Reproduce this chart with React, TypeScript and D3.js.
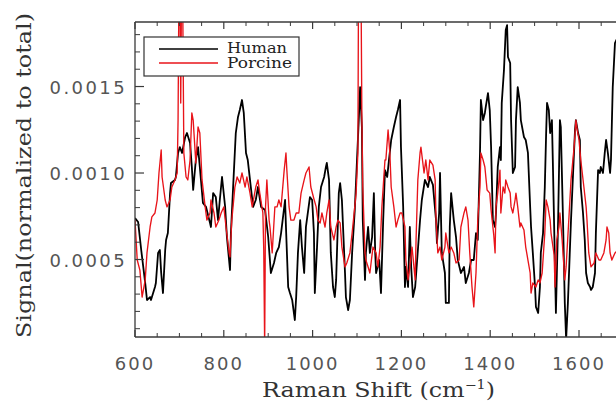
import React from 'react';
import * as d3 from 'd3';

// Raman shift (cm^-1) and normalized signal, Human sample
const humanShift = [
  600,607,614,623,627,634,636,645,647,652,
  656,659,663,668,670,674,679,681,690,692,
  697,701,706,713,717,724,728,731,737,742,
  746,753,760,769,771,776,782,787,791,796,
  803,807,814,816,821,827,832,836,841,845,
  850,854,859,866,872,877,884,893,900,906,
  913,918,924,929,938,940,945,949,954,960,
  963,967,972,976,981,985,994,999,1003,1005,
  1010,1014,1019,1026,1030,1032,1037,1041,1046,1050,
  1053,1059,1062,1066,1073,1075,1080,1084,1089,1095,
  1100,1104,1107,1111,1113,1118,1120,1125,1129,1134,
  1138,1141,1143,1150,1154,1159,1163,1168,1172,1177,
  1183,1188,1192,1197,1199,1204,1208,1210,1215,1219,
  1222,1226,1231,1235,1242,1246,1253,1260,1264,1271,
  1278,1280,1285,1287,1291,1298,1300,1307,1309,1312,
  1318,1323,1327,1334,1341,1345,1352,1357,1363,1368,
  1372,1377,1379,1384,1388,1390,1395,1399,1402,1406,
  1411,1413,1417,1422,1424,1426,1431,1435,1438,1440,
  1445,1447,1451,1456,1458,1462,1467,1469,1476,1480,
  1485,1490,1492,1496,1501,1503,1508,1512,1514,1519,
  1523,1526,1528,1532,1535,1539,1541,1548,1553,1557,
  1559,1564,1568,1571,1575,1582,1591,1593,1598,1602,
  1604,1609,1613,1616,1620,1625,1627,1631,1636,1638,
  1643,1647,1649,1654,1658,1661,1665,1670,1672,1676,
  1681,1690,
];
const humanSignal = [
  0.000740,0.000717,0.000555,0.000364,0.000266,0.000283,0.000266,0.000341,0.000364,0.000538,
  0.000555,0.000422,0.000306,0.000555,0.000613,0.000653,0.000884,0.000942,0.000960,0.000977,
  0.001116,0.001150,0.001116,0.001208,0.001231,0.001173,0.001035,0.000902,0.001075,0.001150,
  0.001035,0.000827,0.000804,0.000711,0.000688,0.000884,0.000861,0.000728,0.000844,0.000977,
  0.000804,0.000630,0.000439,0.000653,0.000919,0.001231,0.001324,0.001364,0.001422,0.001347,
  0.001116,0.001075,0.000960,0.000804,0.000844,0.000919,0.000804,0.000786,0.000630,0.000422,
  0.000480,0.000538,0.000572,0.000653,0.000844,0.000688,0.000341,0.000306,0.000266,0.000150,
  0.000283,0.000538,0.000728,0.000572,0.000422,0.000688,0.000861,0.000844,0.000653,0.000306,
  0.000572,0.000804,0.000919,0.000977,0.001035,0.001058,0.000960,0.000538,0.000341,0.000283,
  0.000382,0.000884,0.000942,0.000844,0.000422,0.000283,0.000208,0.000266,0.000538,0.000786,
  0.001075,0.001306,0.001497,0.001266,0.000728,0.000382,0.000538,0.000688,0.000538,0.000630,
  0.000884,0.000538,0.000422,0.000497,0.000306,0.000728,0.001017,0.000977,0.001075,0.001191,
  0.001266,0.001324,0.001364,0.001422,0.001150,0.000804,0.000341,0.000457,0.000341,0.000688,
  0.000457,0.000283,0.000341,0.000480,0.000728,0.000844,0.000960,0.000919,0.000977,0.000931,
  0.000728,0.000595,0.000769,0.001000,0.000538,0.000422,0.000249,0.000249,0.000688,0.000884,
  0.000728,0.000630,0.000497,0.000422,0.000457,0.000364,0.000422,0.000497,0.000497,0.000653,
  0.000613,0.001116,0.001422,0.001306,0.001347,0.001382,0.001462,0.001364,0.001150,0.000728,
  0.000688,0.000769,0.001035,0.001150,0.001075,0.001405,0.001595,0.001827,0.001855,0.001671,
  0.001636,0.001306,0.001000,0.001035,0.001306,0.001497,0.001405,0.001306,0.001208,0.001191,
  0.001116,0.000804,0.000688,0.000538,0.000341,0.000226,0.000191,0.000341,0.000538,0.000653,
  0.000919,0.001231,0.001405,0.001364,0.001231,0.001306,0.001075,0.000191,0.000728,0.001306,
  0.001266,0.000728,0.000249,0.000040,0.000249,0.000728,0.001249,0.001306,0.001231,0.001191,
  0.000919,0.000769,0.000613,0.000422,0.000364,0.000341,0.000324,0.000341,0.000422,0.000653,
  0.001017,0.001000,0.001035,0.001000,0.001116,0.001191,0.001116,0.001000,0.001075,0.001497,
  0.001751,0.001800,
];

// Porcine sample
const porcineShift = [
  600,605,611,616,623,627,634,638,645,650,
  654,659,661,668,672,679,683,690,695,697,
  700,703,706,710,715,719,724,728,731,737,
  742,746,751,758,762,769,771,778,782,789,
  794,800,805,812,814,818,825,830,836,841,
  848,852,859,864,872,877,881,888,890,892,
  894,897,902,904,909,915,920,924,929,936,
  940,942,947,951,958,963,969,974,981,985,
  992,996,1003,1008,1012,1017,1021,1028,1032,1037,
  1041,1048,1053,1057,1062,1066,1073,1077,1084,1089,
  1095,1098,1102,1104,1108,1111,1113,1118,1120,1125,
  1129,1136,1143,1147,1152,1156,1163,1165,1170,1174,
  1177,1183,1188,1192,1197,1201,1208,1210,1215,1219,
  1224,1231,1233,1237,1242,1244,1251,1255,1260,1264,
  1271,1276,1278,1282,1287,1291,1298,1300,1307,1312,
  1318,1323,1330,1334,1341,1345,1350,1354,1359,1363,
  1368,1372,1377,1379,1384,1388,1393,1399,1402,1408,
  1411,1413,1417,1422,1424,1429,1433,1435,1440,1445,
  1447,1451,1456,1458,1462,1467,1469,1476,1480,1485,
  1490,1492,1496,1503,1508,1512,1517,1523,1526,1530,
  1535,1537,1544,1546,1550,1555,1557,1562,1568,1571,
  1577,1582,1589,1593,1595,1600,1604,1611,1616,1618,
  1622,1627,1634,1638,1645,1649,1656,1661,1663,1667,
  1670,1674,1681,1690,
];
const porcineSignal = [
  0.000728,0.000497,0.000439,0.000283,0.000382,0.000538,0.000688,0.000746,0.000769,0.000844,
  0.001000,0.001133,0.000977,0.000844,0.000804,0.000844,0.000919,0.000960,0.001000,0.001306,
  0.002500,0.001405,0.002500,0.001116,0.000977,0.000960,0.001075,0.001347,0.001306,0.001058,
  0.001266,0.001231,0.000960,0.000804,0.000728,0.000769,0.000844,0.000769,0.000688,0.000728,
  0.000769,0.000804,0.000688,0.000538,0.000515,0.000728,0.000919,0.000977,0.000942,0.001000,
  0.000919,0.000977,0.000884,0.000804,0.000919,0.000960,0.000884,0.000769,0.000555,0.000000,
  0.000804,0.000960,0.000728,0.000688,0.000538,0.000804,0.000804,0.000844,0.000804,0.001017,
  0.001116,0.001017,0.000804,0.000728,0.000728,0.000769,0.000769,0.000884,0.000960,0.001000,
  0.001035,0.000919,0.000850,0.000804,0.000728,0.000711,0.000769,0.000688,0.000769,0.000844,
  0.000688,0.000613,0.000688,0.000728,0.000711,0.000572,0.000457,0.000480,0.000538,0.000653,
  0.000804,0.000884,0.001116,0.002500,0.002500,0.001306,0.000919,0.000538,0.000497,0.000457,
  0.000422,0.000572,0.000538,0.000457,0.000572,0.000804,0.001075,0.001075,0.001249,0.001116,
  0.000919,0.000804,0.000688,0.000728,0.000769,0.000769,0.000688,0.000497,0.000382,0.000457,
  0.000572,0.000382,0.000613,0.000960,0.001116,0.001150,0.001000,0.001075,0.000960,0.001075,
  0.001046,0.000960,0.000728,0.000538,0.000572,0.000497,0.000572,0.000653,0.000538,0.000572,
  0.000538,0.000480,0.000497,0.000688,0.000769,0.000804,0.000728,0.000538,0.000341,0.000226,
  0.000422,0.000728,0.000919,0.001116,0.001075,0.001035,0.000902,0.000884,0.000786,0.000642,
  0.000538,0.000804,0.000884,0.001017,0.000769,0.000919,0.000884,0.000960,0.000919,0.000884,
  0.000804,0.000769,0.000844,0.000884,0.000804,0.000688,0.000711,0.000671,0.000572,0.000497,
  0.000422,0.000306,0.000364,0.000341,0.000382,0.000364,0.000422,0.000653,0.000844,0.000804,
  0.000728,0.000653,0.000526,0.000341,0.000613,0.000688,0.000769,0.000613,0.000382,0.000457,
  0.000728,0.000960,0.001150,0.001306,0.001266,0.001191,0.001075,0.000919,0.000804,0.000728,
  0.000538,0.000457,0.000480,0.000538,0.000497,0.000497,0.000538,0.000613,0.000688,0.000653,
  0.000538,0.000497,0.000538,0.000560,
];

const xMajorTicks = [600, 800, 1000, 1200, 1400, 1600];
const yMajorTicks = [0.0005, 0.0010, 0.0015];
const yTickLabels = ['0.0005', '0.0010', '0.0015'];
const seriesNames = ['Human', 'Porcine'];
const seriesColors = ['#000000', '#e8141a'];

const W = 616;
const H = 402;
const L = 135;
const T = 22;
const B = 337;

export default function App() {
  const x = d3.scaleLinear().domain([600, 1700]).range([L, L + 1100 * 0.444]);
  const y = d3.scaleLinear().domain([0.000052, 0.001873]).range([B, T]);
  const line = d3
    .line<[number, number]>()
    .x((d) => x(d[0]))
    .y((d) => y(d[1]));
  const human = humanShift.map((s, i) => [s, humanSignal[i]] as [number, number]);
  const porcine = porcineShift.map((s, i) => [s, porcineSignal[i]] as [number, number]);
  const xMinor = d3.range(600, 1751, 50).filter((v) => v % 200 !== 0);
  const xMajorAll = [...xMajorTicks, 1800];
  const yMinor = d3
    .range(1, 19)
    .map((k) => k * 0.0001)
    .filter((v) => Math.abs(v / 0.0005 - Math.round(v / 0.0005)) > 1e-6);
  const axisColor = '#3a3a3a';
  const right = W + 20;

  return (
    <svg width={W} height={H} style={{ position: 'absolute', left: 0, top: 0, background: '#fff' }}>
      <defs>
        <clipPath id="plotClip">
          <rect x={L} y={T} width={right - L} height={B - T} />
        </clipPath>
      </defs>
      <rect x={0} y={0} width={W} height={H} fill="#fff" />
      <g clipPath="url(#plotClip)" fill="none" strokeLinejoin="round">
        <path d={line(human) || ''} stroke={seriesColors[0]} strokeWidth={1.8} />
        <path d={line(porcine) || ''} stroke={seriesColors[1]} strokeWidth={1.35} />
      </g>
      {/* axes */}
      <line x1={L} y1={B} x2={right} y2={B} stroke={axisColor} strokeWidth={1.3} />
      <line x1={L} y1={T} x2={right} y2={T} stroke={axisColor} strokeWidth={1.3} />
      <line x1={L} y1={T} x2={L} y2={B} stroke={axisColor} strokeWidth={1.3} />
      {xMajorAll.map((v) => (
        <g key={'xM' + v}>
          <line x1={x(v)} x2={x(v)} y1={B} y2={B - 7} stroke={axisColor} strokeWidth={1.2} />
          <line x1={x(v)} x2={x(v)} y1={T} y2={T + 7} stroke={axisColor} strokeWidth={1.2} />
        </g>
      ))}
      {xMajorTicks.map((v) => (
        <text key={'xl' + v} x={x(v)} y={370} textAnchor="middle" fontFamily="DejaVu Sans" fontSize={18} letterSpacing={2} fill="#555">
          {v}
        </text>
      ))}
      {xMinor.map((v) => (
        <g key={'xm' + v}>
          <line x1={x(v)} x2={x(v)} y1={B} y2={B - 4} stroke={axisColor} strokeWidth={1} />
          <line x1={x(v)} x2={x(v)} y1={T} y2={T + 4} stroke={axisColor} strokeWidth={1} />
        </g>
      ))}
      {yMajorTicks.map((v, i) => (
        <g key={'yM' + v}>
          <line x1={L} x2={L + 9} y1={y(v)} y2={y(v)} stroke={axisColor} strokeWidth={1.2} />
          <text x={127} y={y(v) + 7} textAnchor="end" fontFamily="DejaVu Sans" fontSize={18} letterSpacing={2.4} fill="#555">
            {yTickLabels[i]}
          </text>
        </g>
      ))}
      {yMinor.map((v) => (
        <line key={'ym' + v} x1={L} x2={L + 5} y1={y(v)} y2={y(v)} stroke={axisColor} strokeWidth={1} />
      ))}
      {/* axis titles */}
      <text x={262} y={397} fontFamily="DejaVu Serif" fontSize={20} fill="#333" textLength={233} lengthAdjust="spacingAndGlyphs">
        Raman Shift (cm<tspan dy={-8} fontSize={12}>−1</tspan><tspan dy={8}>)</tspan>
      </text>
      <text
        transform="translate(31,338) rotate(-90)"
        x={0}
        y={0}
        fontFamily="DejaVu Serif"
        fontSize={20}
        fill="#333"
        textLength={325}
        lengthAdjust="spacingAndGlyphs"
      >
        Signal(normalized to total)
      </text>
      {/* legend */}
      <rect x={144} y={37} width={155} height={39} fill="#fff" stroke="#333" strokeWidth={1.2} />
      {seriesNames.map((name, i) => (
        <g key={name}>
          <line x1={159} x2={218} y1={49 + i * 14} y2={49 + i * 14} stroke={seriesColors[i]} strokeWidth={1.3} />
          <text
            x={227}
            y={53 + i * 14.5}
            fontFamily="DejaVu Serif"
            fontSize={14}
            fill="#222"
            textLength={i === 0 ? 60 : 65}
            lengthAdjust="spacingAndGlyphs"
          >
            {name}
          </text>
        </g>
      ))}
    </svg>
  );
}
